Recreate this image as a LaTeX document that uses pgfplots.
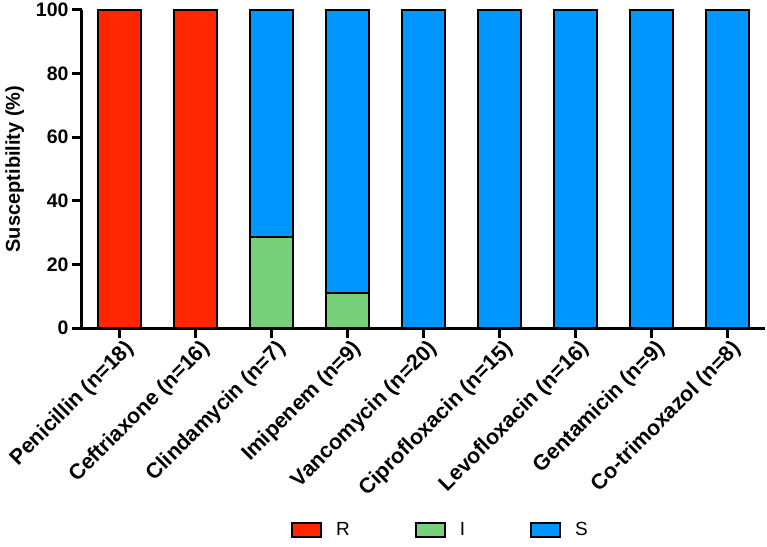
\documentclass[border=0pt]{standalone}
\usepackage{pgfplots}
\pgfplotsset{compat=1.18}
\usepackage{fontspec}
\setmainfont{Liberation Sans}
\definecolor{cR}{HTML}{FF2600}
\definecolor{cI}{HTML}{77D17A}
\definecolor{cS}{HTML}{0096FF}
\begin{document}
\begin{tikzpicture}
\path[use as bounding box] (-82pt,-218pt) rectangle (685pt,328pt);
\begin{axis}[
  at={(0,0)}, anchor=south west,
  scale only axis, width=683pt, height=318pt,
  ybar stacked, bar width=43pt,
  xmin=-0.5, xmax=8.5, ymin=0, ymax=100,
  axis x line*=bottom, axis y line*=left,
  axis line style={line width=3pt, -},
  every tick/.style={black, line width=3pt},
  tick align=outside, major tick length=10pt,
  xtick={0,...,8},
  xticklabels={{Penicillin (n=18)},{Ceftriaxone (n=16)},{Clindamycin (n=7)},{Imipenem (n=9)},{Vancomycin (n=20)},{Ciprofloxacin (n=15)},{Levofloxacin (n=16)},{Gentamicin (n=9)},{Co-trimoxazol (n=8)}},
  ytick={0,20,...,100},
  /pgf/number format/assume math mode=true,
  y tick label style={font=\fontsize{19.5}{22}\selectfont\bfseries},
  x tick label style={font=\fontsize{21.5}{24}\selectfont\bfseries, rotate=45, anchor=east, inner sep=2pt, yshift=-13pt, xshift=4pt},
  ylabel={Susceptibility (\%)},
  ylabel style={font=\fontsize{20}{22}\selectfont\bfseries},
  ylabel shift=5pt,
  clip=false, axis on top,
  legend style={draw=none, at={(0.525,-0.635)}, anchor=center, font=\fontsize{19}{22}\selectfont, legend columns=3,
    /tikz/every odd column/.append style={column sep=12pt},
    /tikz/every even column/.append style={column sep=63pt}},
  legend image code/.code={\draw[#1, line width=2pt] (0pt,-7pt) rectangle (29pt,7pt);},
  every axis plot/.append style={draw=black, line width=2pt},
]
\addplot[fill=cR] coordinates {(0,100) (1,100) (2,0) (3,0) (4,0) (5,0) (6,0) (7,0) (8,0)};
\addplot[fill=cI] coordinates {(0,0) (1,0) (2,28.6) (3,11.1) (4,0) (5,0) (6,0) (7,0) (8,0)};
\addplot[fill=cS] coordinates {(0,0) (1,0) (2,71.4) (3,88.9) (4,100) (5,100) (6,100) (7,100) (8,100)};
\legend{R,I,S}
\end{axis}
\end{tikzpicture}
\end{document}
